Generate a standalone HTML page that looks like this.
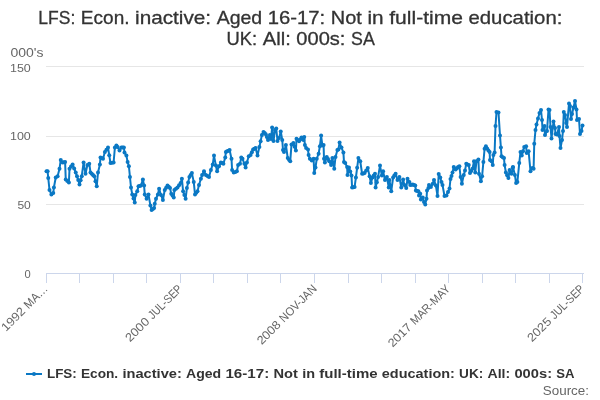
<!DOCTYPE html>
<html><head><meta charset="utf-8"><style>
html,body{margin:0;padding:0;background:#fff;width:600px;height:400px;overflow:hidden}
svg{display:block;will-change:transform}
text{font-family:"Liberation Sans",sans-serif}
</style></head><body>
<svg width="600" height="400" viewBox="0 0 600 400">
<rect width="600" height="400" fill="#ffffff"/>
<text x="38.33" y="24" font-size="18.5" textLength="36.94" lengthAdjust="spacingAndGlyphs" fill="#333333" stroke="#333333" stroke-width="0.3">LFS:</text>
<text x="80.89" y="24" font-size="18.5" textLength="48.62" lengthAdjust="spacingAndGlyphs" fill="#333333" stroke="#333333" stroke-width="0.3">Econ.</text>
<text x="135.12" y="24" font-size="18.5" textLength="75.93" lengthAdjust="spacingAndGlyphs" fill="#333333" stroke="#333333" stroke-width="0.3">inactive:</text>
<text x="216.66" y="24" font-size="18.5" textLength="45.49" lengthAdjust="spacingAndGlyphs" fill="#333333" stroke="#333333" stroke-width="0.3">Aged</text>
<text x="267.76" y="24" font-size="18.5" textLength="57.43" lengthAdjust="spacingAndGlyphs" fill="#333333" stroke="#333333" stroke-width="0.3">16-17:</text>
<text x="330.80" y="24" font-size="18.5" textLength="31.03" lengthAdjust="spacingAndGlyphs" fill="#333333" stroke="#333333" stroke-width="0.3">Not</text>
<text x="367.45" y="24" font-size="18.5" textLength="16.15" lengthAdjust="spacingAndGlyphs" fill="#333333" stroke="#333333" stroke-width="0.3">in</text>
<text x="389.22" y="24" font-size="18.5" textLength="73.69" lengthAdjust="spacingAndGlyphs" fill="#333333" stroke="#333333" stroke-width="0.3">full-time</text>
<text x="468.51" y="24" font-size="18.5" textLength="93.84" lengthAdjust="spacingAndGlyphs" fill="#333333" stroke="#333333" stroke-width="0.3">education:</text>
<text x="226.58" y="44.5" font-size="18.5" textLength="30.59" lengthAdjust="spacingAndGlyphs" fill="#333333" stroke="#333333" stroke-width="0.3">UK:</text>
<text x="262.79" y="44.5" font-size="18.5" textLength="27.98" lengthAdjust="spacingAndGlyphs" fill="#333333" stroke="#333333" stroke-width="0.3">All:</text>
<text x="296.39" y="44.5" font-size="18.5" textLength="49.07" lengthAdjust="spacingAndGlyphs" fill="#333333" stroke="#333333" stroke-width="0.3">000s:</text>
<text x="351.08" y="44.5" font-size="18.5" textLength="23.74" lengthAdjust="spacingAndGlyphs" fill="#333333" stroke="#333333" stroke-width="0.3">SA</text>
<text x="10.5" y="56.5" font-size="12.3" fill="#666666" textLength="33" lengthAdjust="spacingAndGlyphs">000's</text>
<g stroke="#e6e6e6" stroke-width="1" fill="none">
<path d="M46 66.5H584M46 136.5H584M46 204.5H584"/>
</g>
<g font-size="11.5" fill="#666666" text-anchor="end">
<text x="30.8" y="71.8" textLength="20.8" lengthAdjust="spacingAndGlyphs">150</text>
<text x="30.8" y="140" textLength="20.8" lengthAdjust="spacingAndGlyphs">100</text>
<text x="30.8" y="208.8" textLength="13.4" lengthAdjust="spacingAndGlyphs">50</text>
<text x="30.6" y="277.8" font-size="11" textLength="6.2" lengthAdjust="spacingAndGlyphs">0</text>
</g>
<path d="M46 273.5H584" stroke="#ccd6eb" stroke-width="1" fill="none"/>
<path d="M46.5 274V283M79.5 274V283M113.5 274V283M146.5 274V283M180.5 274V283M213.5 274V283M247.5 274V283M280.5 274V283M314.5 274V283M348.5 274V283M381.5 274V283M415.5 274V283M448.5 274V283M482.5 274V283M515.5 274V283M549.5 274V283M582.5 274V283" stroke="#ccd6eb" stroke-width="1" fill="none"/>
<g font-size="11.9" fill="#666666">
<g transform="translate(48.5,289.5) rotate(-45)"><text x="-60.00" y="0" textLength="28.23" lengthAdjust="spacingAndGlyphs" >1992</text><text x="-28.26" y="0" textLength="28.26" lengthAdjust="spacingAndGlyphs" >MA…</text></g>
<g transform="translate(183,289.5) rotate(-45)"><text x="-75.00" y="0" textLength="28.66" lengthAdjust="spacingAndGlyphs" >2000</text><text x="-42.77" y="0" textLength="42.77" lengthAdjust="spacingAndGlyphs" >JUL-SEP</text></g>
<g transform="translate(317.5,289.5) rotate(-45)"><text x="-79.00" y="0" textLength="28.20" lengthAdjust="spacingAndGlyphs" >2008</text><text x="-47.30" y="0" textLength="47.30" lengthAdjust="spacingAndGlyphs" >NOV-JAN</text></g>
<g transform="translate(451,289.5) rotate(-45)"><text x="-82.50" y="0" textLength="27.98" lengthAdjust="spacingAndGlyphs" >2017</text><text x="-51.04" y="0" textLength="51.04" lengthAdjust="spacingAndGlyphs" >MAR-MAY</text></g>
<g transform="translate(585,289.5) rotate(-45)"><text x="-75.00" y="0" textLength="28.66" lengthAdjust="spacingAndGlyphs" >2025</text><text x="-42.77" y="0" textLength="42.77" lengthAdjust="spacingAndGlyphs" >JUL-SEP</text></g>
</g>
<polyline points="46.50,171.25 47.60,171.25 48.25,178.00 49.50,190.00 51.40,194.40 53.25,193.00 53.90,187.50 55.75,177.50 57.60,176.25 59.50,168.75 60.75,160.00 62.60,162.50 65.10,161.90 65.75,179.40 68.90,182.50 69.50,168.75 72.60,164.40 75.75,172.50 78.25,180.00 79.50,184.40 81.75,176.25 83.60,162.50 85.50,173.75 87.40,165.00 89.25,163.75 90.50,172.50 94.25,176.25 95.50,181.25 96.75,186.25 98.00,172.50 99.90,164.40 100.50,157.50 103.00,158.75 104.90,151.90 108.00,147.50 110.50,163.10 113.60,162.50 114.90,147.50 116.40,145.60 117.60,146.90 119.50,150.60 121.40,147.50 123.90,147.50 124.50,152.50 126.40,155.60 127.60,161.90 128.90,166.25 131.00,187.50 132.25,194.40 134.75,202.50 135.40,195.00 137.25,191.25 138.50,186.25 141.00,185.60 142.90,179.40 144.10,185.60 144.75,194.40 146.60,198.75 148.50,194.40 150.40,205.60 151.60,210.00 154.10,208.10 154.75,203.75 156.00,198.75 157.90,194.40 159.10,188.75 161.00,195.00 162.90,200.00 164.75,190.00 167.50,185.60 170.00,188.10 171.25,193.75 173.75,197.50 174.40,190.00 177.50,187.50 180.60,183.10 181.90,178.75 183.10,191.25 185.60,198.75 186.90,188.10 189.40,176.90 191.90,173.10 193.75,181.90 195.00,194.40 197.50,191.25 199.00,185.00 200.90,178.75 202.10,175.00 204.00,171.25 205.90,175.00 209.00,176.90 210.90,170.00 212.75,164.40 214.00,155.60 215.90,165.60 217.10,171.25 219.00,166.25 220.90,162.50 223.40,163.75 225.25,157.50 225.90,151.90 229.60,150.00 231.50,158.75 232.10,170.00 233.75,172.50 236.90,171.25 238.10,165.00 240.00,163.75 241.25,157.50 242.50,158.75 244.40,163.75 245.60,167.50 246.90,162.50 248.75,156.25 250.60,155.00 253.10,149.40 255.60,148.10 257.50,155.60 259.40,146.90 260.60,141.25 261.90,135.00 263.50,132.00 265.75,134.25 268.00,139.90 269.90,135.00 271.00,139.00 272.10,127.50 273.50,141.00 275.00,130.00 276.25,128.50 277.50,141.00 279.00,138.00 280.75,131.50 282.25,140.00 283.00,150.00 284.00,151.90 285.90,145.00 287.75,158.10 290.25,161.25 291.50,144.40 293.40,143.10 295.90,150.60 296.50,138.75 299.00,141.25 301.50,137.50 303.40,140.00 304.25,136.90 304.90,145.00 306.10,148.10 308.00,149.40 308.60,155.00 309.90,158.75 311.75,160.60 313.60,158.75 314.25,173.10 315.50,167.50 316.75,158.75 318.60,153.75 319.90,146.25 321.10,135.60 322.40,145.60 323.60,145.00 324.00,158.75 324.90,162.50 326.75,156.90 329.25,161.25 331.10,165.00 332.40,158.10 334.25,168.75 335.50,156.90 337.40,150.00 338.40,149.40 339.60,142.50 341.50,147.50 343.40,152.50 344.00,161.90 345.25,163.10 347.10,166.90 347.50,175.00 349.00,167.50 351.50,175.60 352.10,187.50 354.60,186.90 355.90,177.50 358.40,158.10 360.25,161.25 362.10,173.75 364.60,173.10 367.75,168.10 369.60,176.25 370.90,183.10 372.50,177.50 375.00,173.75 375.60,187.50 378.10,176.90 380.00,165.60 381.90,175.60 383.10,171.25 385.00,180.00 386.90,176.90 388.75,187.50 389.40,180.00 391.25,191.25 393.10,177.50 395.60,173.75 397.50,180.00 399.40,176.90 401.25,187.50 403.10,179.40 404.40,185.00 406.25,188.10 407.50,178.75 409.40,181.90 410.25,185.00 412.75,184.40 415.25,185.60 415.90,190.60 418.40,191.25 419.00,195.60 420.25,193.75 420.90,199.40 422.75,197.50 424.00,201.90 425.25,204.40 426.50,198.75 427.00,190.60 428.40,188.10 429.00,185.00 430.90,186.90 432.75,183.75 434.00,180.00 435.90,185.60 437.50,196.00 438.70,174.00 440.25,177.50 441.50,182.00 442.50,185.00 444.50,196.00 446.50,195.50 448.00,192.00 449.50,188.50 450.50,179.00 451.50,176.00 452.50,172.50 453.75,166.90 455.60,169.40 458.10,166.90 459.40,166.25 460.60,176.90 461.90,183.75 463.75,175.00 465.00,170.60 466.25,163.75 468.75,165.00 470.00,173.10 472.50,168.75 474.00,161.25 475.25,172.50 476.50,161.25 478.40,159.40 479.00,173.75 480.90,181.25 482.10,176.25 483.40,161.90 484.60,148.75 485.90,146.25 488.40,150.60 489.60,151.90 490.00,160.00 491.50,161.25 492.75,165.00 493.40,155.00 494.60,152.50 495.50,126.00 496.50,112.00 498.50,112.50 500.00,135.50 500.90,147.50 501.50,156.25 504.00,158.10 504.60,165.00 505.90,172.50 508.40,178.10 509.60,170.00 511.50,173.75 512.75,167.50 513.00,166.90 514.90,175.00 516.10,183.10 517.40,181.90 519.25,163.10 520.50,151.90 521.75,155.60 524.25,146.90 526.10,146.25 526.75,153.10 528.60,151.25 530.50,171.25 532.40,168.10 533.60,168.75 534.25,143.75 535.50,130.00 536.50,124.50 538.00,118.50 539.50,113.00 541.00,110.00 542.00,120.00 542.50,130.00 544.50,126.00 545.00,135.00 547.00,131.00 548.50,109.50 549.50,110.00 550.50,127.00 551.50,138.50 553.50,121.50 555.00,128.00 555.50,134.00 557.00,134.50 559.00,127.00 559.50,136.00 560.50,148.00 562.00,140.00 563.00,131.00 563.80,112.00 565.00,115.00 566.20,123.00 567.00,127.00 569.00,103.50 570.00,106.00 571.00,119.00 572.00,114.00 575.00,101.00 576.50,109.50 577.00,120.00 579.00,119.00 580.00,134.00 581.50,131.00 582.50,125.50" fill="none" stroke="#0a78c4" stroke-width="2" stroke-linejoin="round" stroke-linecap="round"/>
<g fill="#0a78c4">
<circle cx="46.50" cy="171.25" r="2"/><circle cx="47.60" cy="171.25" r="2"/><circle cx="48.25" cy="178.00" r="2"/><circle cx="49.50" cy="190.00" r="2"/><circle cx="51.40" cy="194.40" r="2"/><circle cx="53.25" cy="193.00" r="2"/><circle cx="53.90" cy="187.50" r="2"/><circle cx="55.75" cy="177.50" r="2"/><circle cx="57.60" cy="176.25" r="2"/><circle cx="59.50" cy="168.75" r="2"/><circle cx="60.75" cy="160.00" r="2"/><circle cx="62.60" cy="162.50" r="2"/><circle cx="63.85" cy="162.20" r="2"/><circle cx="65.10" cy="161.90" r="2"/><circle cx="65.75" cy="179.40" r="2"/><circle cx="67.33" cy="180.95" r="2"/><circle cx="68.90" cy="182.50" r="2"/><circle cx="69.50" cy="168.75" r="2"/><circle cx="71.05" cy="166.57" r="2"/><circle cx="72.60" cy="164.40" r="2"/><circle cx="74.17" cy="168.45" r="2"/><circle cx="75.75" cy="172.50" r="2"/><circle cx="77.00" cy="176.25" r="2"/><circle cx="78.25" cy="180.00" r="2"/><circle cx="79.50" cy="184.40" r="2"/><circle cx="80.62" cy="180.32" r="2"/><circle cx="81.75" cy="176.25" r="2"/><circle cx="83.60" cy="162.50" r="2"/><circle cx="85.50" cy="173.75" r="2"/><circle cx="87.40" cy="165.00" r="2"/><circle cx="89.25" cy="163.75" r="2"/><circle cx="90.50" cy="172.50" r="2"/><circle cx="91.75" cy="173.75" r="2"/><circle cx="93.00" cy="175.00" r="2"/><circle cx="94.25" cy="176.25" r="2"/><circle cx="95.50" cy="181.25" r="2"/><circle cx="96.75" cy="186.25" r="2"/><circle cx="98.00" cy="172.50" r="2"/><circle cx="99.90" cy="164.40" r="2"/><circle cx="100.50" cy="157.50" r="2"/><circle cx="101.75" cy="158.12" r="2"/><circle cx="103.00" cy="158.75" r="2"/><circle cx="104.90" cy="151.90" r="2"/><circle cx="106.45" cy="149.70" r="2"/><circle cx="108.00" cy="147.50" r="2"/><circle cx="109.25" cy="155.30" r="2"/><circle cx="110.50" cy="163.10" r="2"/><circle cx="112.05" cy="162.80" r="2"/><circle cx="113.60" cy="162.50" r="2"/><circle cx="114.90" cy="147.50" r="2"/><circle cx="116.40" cy="145.60" r="2"/><circle cx="117.60" cy="146.90" r="2"/><circle cx="119.50" cy="150.60" r="2"/><circle cx="121.40" cy="147.50" r="2"/><circle cx="122.65" cy="147.50" r="2"/><circle cx="123.90" cy="147.50" r="2"/><circle cx="124.50" cy="152.50" r="2"/><circle cx="126.40" cy="155.60" r="2"/><circle cx="127.60" cy="161.90" r="2"/><circle cx="128.90" cy="166.25" r="2"/><circle cx="129.95" cy="176.88" r="2"/><circle cx="131.00" cy="187.50" r="2"/><circle cx="132.25" cy="194.40" r="2"/><circle cx="133.50" cy="198.45" r="2"/><circle cx="134.75" cy="202.50" r="2"/><circle cx="135.40" cy="195.00" r="2"/><circle cx="137.25" cy="191.25" r="2"/><circle cx="138.50" cy="186.25" r="2"/><circle cx="139.75" cy="185.93" r="2"/><circle cx="141.00" cy="185.60" r="2"/><circle cx="142.90" cy="179.40" r="2"/><circle cx="144.10" cy="185.60" r="2"/><circle cx="144.75" cy="194.40" r="2"/><circle cx="146.60" cy="198.75" r="2"/><circle cx="148.50" cy="194.40" r="2"/><circle cx="150.40" cy="205.60" r="2"/><circle cx="151.60" cy="210.00" r="2"/><circle cx="152.85" cy="209.05" r="2"/><circle cx="154.10" cy="208.10" r="2"/><circle cx="154.75" cy="203.75" r="2"/><circle cx="156.00" cy="198.75" r="2"/><circle cx="157.90" cy="194.40" r="2"/><circle cx="159.10" cy="188.75" r="2"/><circle cx="161.00" cy="195.00" r="2"/><circle cx="162.90" cy="200.00" r="2"/><circle cx="164.75" cy="190.00" r="2"/><circle cx="166.12" cy="187.80" r="2"/><circle cx="167.50" cy="185.60" r="2"/><circle cx="168.75" cy="186.85" r="2"/><circle cx="170.00" cy="188.10" r="2"/><circle cx="171.25" cy="193.75" r="2"/><circle cx="172.50" cy="195.62" r="2"/><circle cx="173.75" cy="197.50" r="2"/><circle cx="174.40" cy="190.00" r="2"/><circle cx="175.95" cy="188.75" r="2"/><circle cx="177.50" cy="187.50" r="2"/><circle cx="179.05" cy="185.30" r="2"/><circle cx="180.60" cy="183.10" r="2"/><circle cx="181.90" cy="178.75" r="2"/><circle cx="183.10" cy="191.25" r="2"/><circle cx="184.35" cy="195.00" r="2"/><circle cx="185.60" cy="198.75" r="2"/><circle cx="186.90" cy="188.10" r="2"/><circle cx="188.15" cy="182.50" r="2"/><circle cx="189.40" cy="176.90" r="2"/><circle cx="190.65" cy="175.00" r="2"/><circle cx="191.90" cy="173.10" r="2"/><circle cx="193.75" cy="181.90" r="2"/><circle cx="195.00" cy="194.40" r="2"/><circle cx="196.25" cy="192.82" r="2"/><circle cx="197.50" cy="191.25" r="2"/><circle cx="199.00" cy="185.00" r="2"/><circle cx="200.90" cy="178.75" r="2"/><circle cx="202.10" cy="175.00" r="2"/><circle cx="204.00" cy="171.25" r="2"/><circle cx="205.90" cy="175.00" r="2"/><circle cx="207.45" cy="175.95" r="2"/><circle cx="209.00" cy="176.90" r="2"/><circle cx="210.90" cy="170.00" r="2"/><circle cx="212.75" cy="164.40" r="2"/><circle cx="214.00" cy="155.60" r="2"/><circle cx="215.90" cy="165.60" r="2"/><circle cx="217.10" cy="171.25" r="2"/><circle cx="219.00" cy="166.25" r="2"/><circle cx="220.90" cy="162.50" r="2"/><circle cx="222.15" cy="163.12" r="2"/><circle cx="223.40" cy="163.75" r="2"/><circle cx="225.25" cy="157.50" r="2"/><circle cx="225.90" cy="151.90" r="2"/><circle cx="227.13" cy="151.27" r="2"/><circle cx="228.37" cy="150.63" r="2"/><circle cx="229.60" cy="150.00" r="2"/><circle cx="231.50" cy="158.75" r="2"/><circle cx="232.10" cy="170.00" r="2"/><circle cx="233.75" cy="172.50" r="2"/><circle cx="235.32" cy="171.88" r="2"/><circle cx="236.90" cy="171.25" r="2"/><circle cx="238.10" cy="165.00" r="2"/><circle cx="240.00" cy="163.75" r="2"/><circle cx="241.25" cy="157.50" r="2"/><circle cx="242.50" cy="158.75" r="2"/><circle cx="244.40" cy="163.75" r="2"/><circle cx="245.60" cy="167.50" r="2"/><circle cx="246.90" cy="162.50" r="2"/><circle cx="248.75" cy="156.25" r="2"/><circle cx="250.60" cy="155.00" r="2"/><circle cx="251.85" cy="152.20" r="2"/><circle cx="253.10" cy="149.40" r="2"/><circle cx="254.35" cy="148.75" r="2"/><circle cx="255.60" cy="148.10" r="2"/><circle cx="257.50" cy="155.60" r="2"/><circle cx="259.40" cy="146.90" r="2"/><circle cx="260.60" cy="141.25" r="2"/><circle cx="261.90" cy="135.00" r="2"/><circle cx="263.50" cy="132.00" r="2"/><circle cx="264.62" cy="133.12" r="2"/><circle cx="265.75" cy="134.25" r="2"/><circle cx="266.88" cy="137.07" r="2"/><circle cx="268.00" cy="139.90" r="2"/><circle cx="269.90" cy="135.00" r="2"/><circle cx="271.00" cy="139.00" r="2"/><circle cx="272.10" cy="127.50" r="2"/><circle cx="273.50" cy="141.00" r="2"/><circle cx="275.00" cy="130.00" r="2"/><circle cx="276.25" cy="128.50" r="2"/><circle cx="277.50" cy="141.00" r="2"/><circle cx="279.00" cy="138.00" r="2"/><circle cx="280.75" cy="131.50" r="2"/><circle cx="282.25" cy="140.00" r="2"/><circle cx="283.00" cy="150.00" r="2"/><circle cx="284.00" cy="151.90" r="2"/><circle cx="285.90" cy="145.00" r="2"/><circle cx="287.75" cy="158.10" r="2"/><circle cx="289.00" cy="159.68" r="2"/><circle cx="290.25" cy="161.25" r="2"/><circle cx="291.50" cy="144.40" r="2"/><circle cx="293.40" cy="143.10" r="2"/><circle cx="294.65" cy="146.85" r="2"/><circle cx="295.90" cy="150.60" r="2"/><circle cx="296.50" cy="138.75" r="2"/><circle cx="297.75" cy="140.00" r="2"/><circle cx="299.00" cy="141.25" r="2"/><circle cx="300.25" cy="139.38" r="2"/><circle cx="301.50" cy="137.50" r="2"/><circle cx="303.40" cy="140.00" r="2"/><circle cx="304.25" cy="136.90" r="2"/><circle cx="304.90" cy="145.00" r="2"/><circle cx="306.10" cy="148.10" r="2"/><circle cx="308.00" cy="149.40" r="2"/><circle cx="308.60" cy="155.00" r="2"/><circle cx="309.90" cy="158.75" r="2"/><circle cx="311.75" cy="160.60" r="2"/><circle cx="313.60" cy="158.75" r="2"/><circle cx="314.25" cy="173.10" r="2"/><circle cx="315.50" cy="167.50" r="2"/><circle cx="316.75" cy="158.75" r="2"/><circle cx="318.60" cy="153.75" r="2"/><circle cx="319.90" cy="146.25" r="2"/><circle cx="321.10" cy="135.60" r="2"/><circle cx="322.40" cy="145.60" r="2"/><circle cx="323.60" cy="145.00" r="2"/><circle cx="324.00" cy="158.75" r="2"/><circle cx="324.90" cy="162.50" r="2"/><circle cx="326.75" cy="156.90" r="2"/><circle cx="328.00" cy="159.07" r="2"/><circle cx="329.25" cy="161.25" r="2"/><circle cx="331.10" cy="165.00" r="2"/><circle cx="332.40" cy="158.10" r="2"/><circle cx="334.25" cy="168.75" r="2"/><circle cx="335.50" cy="156.90" r="2"/><circle cx="337.40" cy="150.00" r="2"/><circle cx="338.40" cy="149.40" r="2"/><circle cx="339.60" cy="142.50" r="2"/><circle cx="341.50" cy="147.50" r="2"/><circle cx="343.40" cy="152.50" r="2"/><circle cx="344.00" cy="161.90" r="2"/><circle cx="345.25" cy="163.10" r="2"/><circle cx="347.10" cy="166.90" r="2"/><circle cx="347.50" cy="175.00" r="2"/><circle cx="349.00" cy="167.50" r="2"/><circle cx="350.25" cy="171.55" r="2"/><circle cx="351.50" cy="175.60" r="2"/><circle cx="352.10" cy="187.50" r="2"/><circle cx="353.35" cy="187.20" r="2"/><circle cx="354.60" cy="186.90" r="2"/><circle cx="355.90" cy="177.50" r="2"/><circle cx="357.15" cy="167.80" r="2"/><circle cx="358.40" cy="158.10" r="2"/><circle cx="360.25" cy="161.25" r="2"/><circle cx="362.10" cy="173.75" r="2"/><circle cx="363.35" cy="173.43" r="2"/><circle cx="364.60" cy="173.10" r="2"/><circle cx="366.18" cy="170.60" r="2"/><circle cx="367.75" cy="168.10" r="2"/><circle cx="369.60" cy="176.25" r="2"/><circle cx="370.90" cy="183.10" r="2"/><circle cx="372.50" cy="177.50" r="2"/><circle cx="373.75" cy="175.62" r="2"/><circle cx="375.00" cy="173.75" r="2"/><circle cx="375.60" cy="187.50" r="2"/><circle cx="376.85" cy="182.20" r="2"/><circle cx="378.10" cy="176.90" r="2"/><circle cx="380.00" cy="165.60" r="2"/><circle cx="381.90" cy="175.60" r="2"/><circle cx="383.10" cy="171.25" r="2"/><circle cx="385.00" cy="180.00" r="2"/><circle cx="386.90" cy="176.90" r="2"/><circle cx="388.75" cy="187.50" r="2"/><circle cx="389.40" cy="180.00" r="2"/><circle cx="391.25" cy="191.25" r="2"/><circle cx="393.10" cy="177.50" r="2"/><circle cx="394.35" cy="175.62" r="2"/><circle cx="395.60" cy="173.75" r="2"/><circle cx="397.50" cy="180.00" r="2"/><circle cx="399.40" cy="176.90" r="2"/><circle cx="401.25" cy="187.50" r="2"/><circle cx="403.10" cy="179.40" r="2"/><circle cx="404.40" cy="185.00" r="2"/><circle cx="406.25" cy="188.10" r="2"/><circle cx="407.50" cy="178.75" r="2"/><circle cx="409.40" cy="181.90" r="2"/><circle cx="410.25" cy="185.00" r="2"/><circle cx="411.50" cy="184.70" r="2"/><circle cx="412.75" cy="184.40" r="2"/><circle cx="414.00" cy="185.00" r="2"/><circle cx="415.25" cy="185.60" r="2"/><circle cx="415.90" cy="190.60" r="2"/><circle cx="417.15" cy="190.93" r="2"/><circle cx="418.40" cy="191.25" r="2"/><circle cx="419.00" cy="195.60" r="2"/><circle cx="420.25" cy="193.75" r="2"/><circle cx="420.90" cy="199.40" r="2"/><circle cx="422.75" cy="197.50" r="2"/><circle cx="424.00" cy="201.90" r="2"/><circle cx="425.25" cy="204.40" r="2"/><circle cx="426.50" cy="198.75" r="2"/><circle cx="427.00" cy="190.60" r="2"/><circle cx="428.40" cy="188.10" r="2"/><circle cx="429.00" cy="185.00" r="2"/><circle cx="430.90" cy="186.90" r="2"/><circle cx="432.75" cy="183.75" r="2"/><circle cx="434.00" cy="180.00" r="2"/><circle cx="435.90" cy="185.60" r="2"/><circle cx="437.50" cy="196.00" r="2"/><circle cx="438.70" cy="174.00" r="2"/><circle cx="440.25" cy="177.50" r="2"/><circle cx="441.50" cy="182.00" r="2"/><circle cx="442.50" cy="185.00" r="2"/><circle cx="444.50" cy="196.00" r="2"/><circle cx="446.50" cy="195.50" r="2"/><circle cx="448.00" cy="192.00" r="2"/><circle cx="449.50" cy="188.50" r="2"/><circle cx="450.50" cy="179.00" r="2"/><circle cx="451.50" cy="176.00" r="2"/><circle cx="452.50" cy="172.50" r="2"/><circle cx="453.75" cy="166.90" r="2"/><circle cx="455.60" cy="169.40" r="2"/><circle cx="456.85" cy="168.15" r="2"/><circle cx="458.10" cy="166.90" r="2"/><circle cx="459.40" cy="166.25" r="2"/><circle cx="460.60" cy="176.90" r="2"/><circle cx="461.90" cy="183.75" r="2"/><circle cx="463.75" cy="175.00" r="2"/><circle cx="465.00" cy="170.60" r="2"/><circle cx="466.25" cy="163.75" r="2"/><circle cx="467.50" cy="164.38" r="2"/><circle cx="468.75" cy="165.00" r="2"/><circle cx="470.00" cy="173.10" r="2"/><circle cx="471.25" cy="170.93" r="2"/><circle cx="472.50" cy="168.75" r="2"/><circle cx="474.00" cy="161.25" r="2"/><circle cx="475.25" cy="172.50" r="2"/><circle cx="476.50" cy="161.25" r="2"/><circle cx="478.40" cy="159.40" r="2"/><circle cx="479.00" cy="173.75" r="2"/><circle cx="480.90" cy="181.25" r="2"/><circle cx="482.10" cy="176.25" r="2"/><circle cx="483.40" cy="161.90" r="2"/><circle cx="484.60" cy="148.75" r="2"/><circle cx="485.90" cy="146.25" r="2"/><circle cx="487.15" cy="148.43" r="2"/><circle cx="488.40" cy="150.60" r="2"/><circle cx="489.60" cy="151.90" r="2"/><circle cx="490.00" cy="160.00" r="2"/><circle cx="491.50" cy="161.25" r="2"/><circle cx="492.75" cy="165.00" r="2"/><circle cx="493.40" cy="155.00" r="2"/><circle cx="494.60" cy="152.50" r="2"/><circle cx="495.50" cy="126.00" r="2"/><circle cx="496.50" cy="112.00" r="2"/><circle cx="498.50" cy="112.50" r="2"/><circle cx="500.00" cy="135.50" r="2"/><circle cx="500.90" cy="147.50" r="2"/><circle cx="501.50" cy="156.25" r="2"/><circle cx="502.75" cy="157.18" r="2"/><circle cx="504.00" cy="158.10" r="2"/><circle cx="504.60" cy="165.00" r="2"/><circle cx="505.90" cy="172.50" r="2"/><circle cx="507.15" cy="175.30" r="2"/><circle cx="508.40" cy="178.10" r="2"/><circle cx="509.60" cy="170.00" r="2"/><circle cx="511.50" cy="173.75" r="2"/><circle cx="512.75" cy="167.50" r="2"/><circle cx="513.00" cy="166.90" r="2"/><circle cx="514.90" cy="175.00" r="2"/><circle cx="516.10" cy="183.10" r="2"/><circle cx="517.40" cy="181.90" r="2"/><circle cx="519.25" cy="163.10" r="2"/><circle cx="520.50" cy="151.90" r="2"/><circle cx="521.75" cy="155.60" r="2"/><circle cx="523.00" cy="151.25" r="2"/><circle cx="524.25" cy="146.90" r="2"/><circle cx="526.10" cy="146.25" r="2"/><circle cx="526.75" cy="153.10" r="2"/><circle cx="528.60" cy="151.25" r="2"/><circle cx="530.50" cy="171.25" r="2"/><circle cx="532.40" cy="168.10" r="2"/><circle cx="533.60" cy="168.75" r="2"/><circle cx="534.25" cy="143.75" r="2"/><circle cx="535.50" cy="130.00" r="2"/><circle cx="536.50" cy="124.50" r="2"/><circle cx="538.00" cy="118.50" r="2"/><circle cx="539.50" cy="113.00" r="2"/><circle cx="541.00" cy="110.00" r="2"/><circle cx="542.00" cy="120.00" r="2"/><circle cx="542.50" cy="130.00" r="2"/><circle cx="544.50" cy="126.00" r="2"/><circle cx="545.00" cy="135.00" r="2"/><circle cx="547.00" cy="131.00" r="2"/><circle cx="548.50" cy="109.50" r="2"/><circle cx="549.50" cy="110.00" r="2"/><circle cx="550.50" cy="127.00" r="2"/><circle cx="551.50" cy="138.50" r="2"/><circle cx="553.50" cy="121.50" r="2"/><circle cx="555.00" cy="128.00" r="2"/><circle cx="555.50" cy="134.00" r="2"/><circle cx="557.00" cy="134.50" r="2"/><circle cx="559.00" cy="127.00" r="2"/><circle cx="559.50" cy="136.00" r="2"/><circle cx="560.50" cy="148.00" r="2"/><circle cx="562.00" cy="140.00" r="2"/><circle cx="563.00" cy="131.00" r="2"/><circle cx="563.80" cy="112.00" r="2"/><circle cx="565.00" cy="115.00" r="2"/><circle cx="566.20" cy="123.00" r="2"/><circle cx="567.00" cy="127.00" r="2"/><circle cx="569.00" cy="103.50" r="2"/><circle cx="570.00" cy="106.00" r="2"/><circle cx="571.00" cy="119.00" r="2"/><circle cx="572.00" cy="114.00" r="2"/><circle cx="573.50" cy="107.50" r="2"/><circle cx="575.00" cy="101.00" r="2"/><circle cx="576.50" cy="109.50" r="2"/><circle cx="577.00" cy="120.00" r="2"/><circle cx="579.00" cy="119.00" r="2"/><circle cx="580.00" cy="134.00" r="2"/><circle cx="581.50" cy="131.00" r="2"/><circle cx="582.50" cy="125.50" r="2"/>
</g>
<path d="M26 374H42" stroke="#0a78c4" stroke-width="2"/>
<circle cx="34" cy="374" r="2" fill="#0a78c4"/>
<text x="46.98" y="378" font-size="12.3" textLength="29.75" lengthAdjust="spacingAndGlyphs" font-weight="bold" fill="#333333">LFS:</text>
<text x="80.95" y="378" font-size="12.3" textLength="37.24" lengthAdjust="spacingAndGlyphs" font-weight="bold" fill="#333333">Econ.</text>
<text x="122.43" y="378" font-size="12.3" textLength="59.39" lengthAdjust="spacingAndGlyphs" font-weight="bold" fill="#333333">inactive:</text>
<text x="186.04" y="378" font-size="12.3" textLength="35.16" lengthAdjust="spacingAndGlyphs" font-weight="bold" fill="#333333">Aged</text>
<text x="225.43" y="378" font-size="12.3" textLength="43.85" lengthAdjust="spacingAndGlyphs" font-weight="bold" fill="#333333">16-17:</text>
<text x="273.51" y="378" font-size="12.3" textLength="24.42" lengthAdjust="spacingAndGlyphs" font-weight="bold" fill="#333333">Not</text>
<text x="302.15" y="378" font-size="12.3" textLength="12.87" lengthAdjust="spacingAndGlyphs" font-weight="bold" fill="#333333">in</text>
<text x="319.25" y="378" font-size="12.3" textLength="58.36" lengthAdjust="spacingAndGlyphs" font-weight="bold" fill="#333333">full-time</text>
<text x="381.84" y="378" font-size="12.3" textLength="73.03" lengthAdjust="spacingAndGlyphs" font-weight="bold" fill="#333333">education:</text>
<text x="459.11" y="378" font-size="12.3" textLength="24.21" lengthAdjust="spacingAndGlyphs" font-weight="bold" fill="#333333">UK:</text>
<text x="487.56" y="378" font-size="12.3" textLength="22.67" lengthAdjust="spacingAndGlyphs" font-weight="bold" fill="#333333">All:</text>
<text x="514.45" y="378" font-size="12.3" textLength="37.59" lengthAdjust="spacingAndGlyphs" font-weight="bold" fill="#333333">000s:</text>
<text x="556.26" y="378" font-size="12.3" textLength="18.21" lengthAdjust="spacingAndGlyphs" font-weight="bold" fill="#333333">SA</text>
<text x="589" y="395" text-anchor="end" font-size="12" fill="#666666" textLength="46.2" lengthAdjust="spacingAndGlyphs">Source:</text>
</svg>
</body></html>
